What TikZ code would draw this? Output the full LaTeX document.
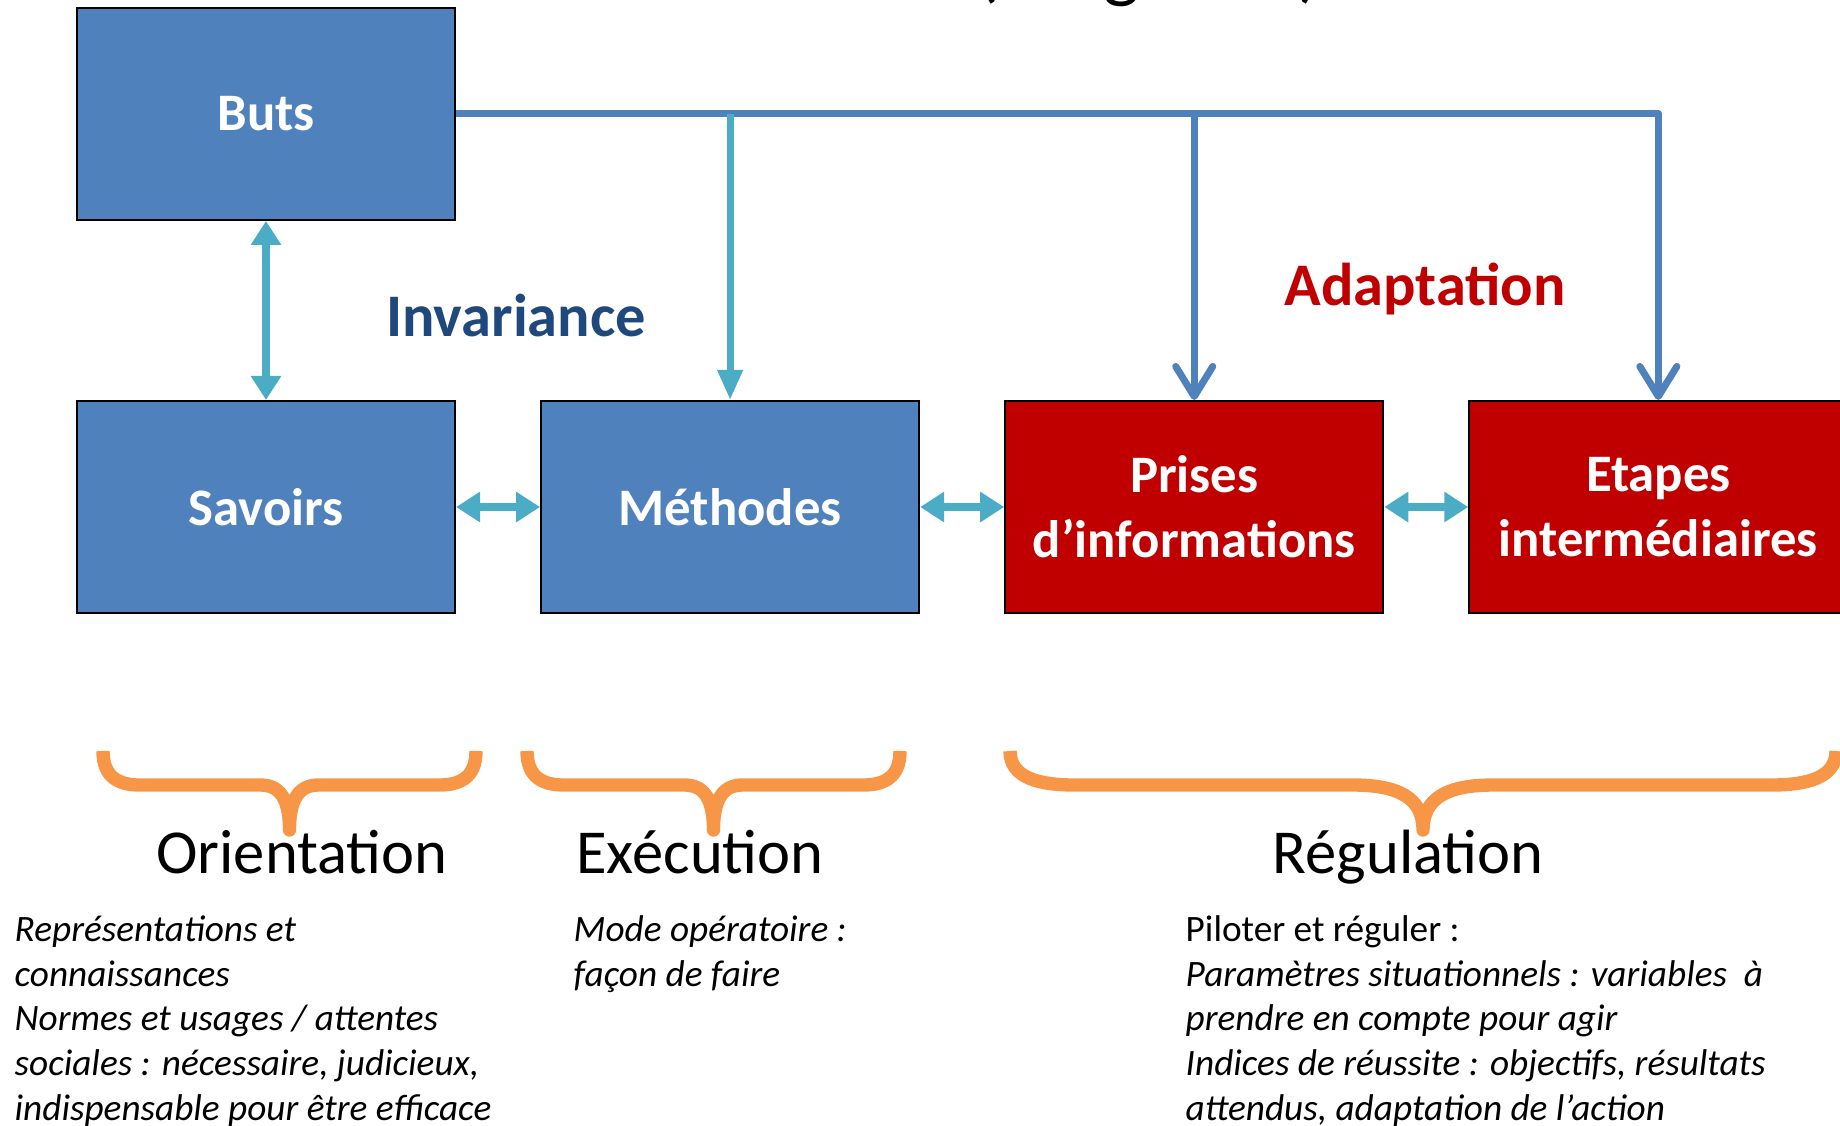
\documentclass[tikz,border=0pt]{standalone}
\usepackage{fontspec}
\setmainfont{Carlito}
\usetikzlibrary{positioning,arrows.meta}
\definecolor{butsblue}{HTML}{4F81BD}
\definecolor{linkteal}{HTML}{4BACC6}
\definecolor{adaptred}{HTML}{C00000}
\definecolor{invblue}{HTML}{1F497D}
\definecolor{braceorange}{HTML}{F79646}

\begin{document}
\begin{tikzpicture}[
    box/.style={draw=black, line width=0.6pt, minimum width=3.78cm, minimum height=2.12cm,
        inner sep=0pt, text=white, align=center, font=\fontsize{15}{18.4}\selectfont\bfseries},
    bluebox/.style={box, fill=butsblue},
    redbox/.style={box, fill=adaptred},
    twoway/.style={linkteal, line width=2.4pt,
        {Triangle[length=0.24cm,width=0.29cm]}-{Triangle[length=0.24cm,width=0.29cm]}},
    trunk/.style={butsblue, line width=2pt, line join=round,
        -{Straight Barb[length=0.3cm,width=0.37cm,round]}},
    tealdown/.style={linkteal, line width=2pt, -{Triangle[length=0.3cm,width=0.24cm]}},
    brace/.style={braceorange, line width=3.8pt, line join=round},
    phase/.style={anchor=base, inner sep=0pt, font=\fontsize{17.8}{21}\selectfont},
    desc/.style={anchor=base west, inner sep=0pt, align=left, font=\fontsize{10.6}{12.7}\selectfont\itshape}
]
\useasboundingbox (0,0) rectangle (18.40,-11.25);

% left end, right end, middle, end radius, middle radius
\def\orangebrace#1#2#3#4#5{
    \draw[brace] (#1,-7.51) .. controls (#1,-7.78) and ({#1+0.45*#4},-7.85) .. ({#1+#4},-7.85)
        -- ({#3-#5},-7.85) .. controls ({#3-0.35*#5},-7.85) and (#3,-7.98) .. (#3,-8.30)
        .. controls (#3,-7.98) and ({#3+0.35*#5},-7.85) .. ({#3+#5},-7.85)
        -- ({#2-#4},-7.85) .. controls ({#2-0.45*#4},-7.85) and (#2,-7.78) .. (#2,-7.51);
}

\node[anchor=base, font=\fontsize{22}{26}\selectfont] (title) at (11.49,0.07) {(Vergnaud)};

\node[bluebox] (savoirs) at (2.66,-5.07) {Savoirs};
\node[bluebox, right=0.84cm of savoirs] (methodes) {Méthodes};
\node[redbox, right=0.84cm of methodes] (prises) {Prises\\d’informations};
\node[redbox, right=0.84cm of prises] (etapes) {Etapes\\intermédiaires};
\node[bluebox, above=1.79cm of savoirs] (buts) {Buts};

\draw[trunk] (buts.east) -| (etapes.north);
\draw[trunk] (buts.east -| prises.north) -- (prises.north);
\draw[tealdown] (buts.east -| methodes.north) -- (methodes.north);

\draw[twoway] (buts) -- (savoirs);
\draw[twoway] (savoirs) -- (methodes);
\draw[twoway] (methodes) -- (prises);
\draw[twoway] (prises) -- (etapes);

\node[text=invblue, font=\fontsize{17.2}{20}\selectfont\bfseries] (invariance) at (5.16,-3.15) {Invariance};
\node[text=adaptred, font=\fontsize{17.2}{20}\selectfont\bfseries] (adaptation) at (14.25,-2.89) {Adaptation};

\orangebrace{1.03}{4.76}{2.895}{0.37}{0.29}
\orangebrace{5.27}{9.00}{7.135}{0.37}{0.29}
\orangebrace{10.10}{18.36}{14.23}{0.65}{0.70}

\node[phase] (orient) at (3.02,-8.73) {Orientation};
\node[phase] (exec) at (7.00,-8.73) {Exécution};
\node[phase] (regul) at (14.08,-8.73) {Régulation};

% base anchor sits on the last line
\node[desc] (orienttxt) at (0.14,-11.20) {Représentations et\\connaissances\\Normes et usages / attentes\\sociales : nécessaire, judicieux,\\indispensable pour être efficace};
\node[desc] (exectxt) at (5.73,-9.86) {Mode opératoire :\\façon de faire};
\node[desc] (regultxt) at (11.85,-11.20) {\textup{Piloter et réguler :}\\Paramètres situationnels : variables~ à\\prendre en compte pour agir\\Indices de réussite : objectifs, résultats\\attendus, adaptation de l’action};
\end{tikzpicture}
\end{document}
